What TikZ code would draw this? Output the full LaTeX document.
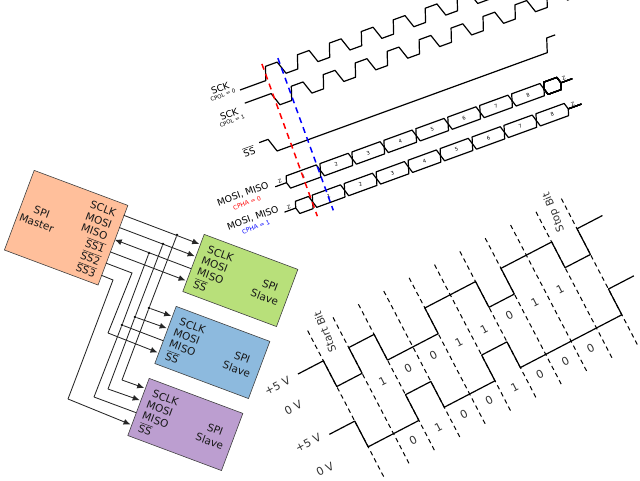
\documentclass[tikz,border=0pt]{standalone}
\usepackage{fontspec}
\setmainfont{DejaVu Sans}
\usetikzlibrary{arrows.meta}
\definecolor{masterfill}{RGB}{255,191,155}
\definecolor{slavegreen}{RGB}{184,224,122}
\definecolor{slaveblue}{RGB}{141,186,222}
\definecolor{slavepurple}{RGB}{188,158,208}
\newcommand{\ovl}[1]{$\overline{\mbox{#1}}$}
\newcommand{\fs}[1]{\fontsize{#1}{#1}\selectfont}
\newcommand{\buscell}[4]{%
  \draw[wave] ({#1},{#3}) -- ({#1+2},{#3-6.5}) -- ({#2-2},{#3-6.5}) -- ({#2},{#3})
    -- ({#2-2},{#3+6.5}) -- ({#1+2},{#3+6.5}) -- cycle;
  \node[tiny label] at ({(#1+#2)/2},{#3}) {#4};}
\tikzset{
  spibox/.style={draw=black!75, line width=0.6pt, anchor=north west, inner sep=0pt},
  spitext/.style={font=\fs{10.5}, inner sep=0pt, text=black!90},
  wire/.style={black!85, line width=0.85pt},
  wirearrow/.style={wire, -{Latex[length=7pt,width=6pt]}},
  joint/.style={circle, fill=black, inner sep=0pt, minimum size=2.6pt},
  wave/.style={black, line width=1.2pt, line join=round},
  bitdash/.style={black, line width=1pt, dash pattern=on 4.5pt off 3.5pt},
  tiny label/.style={font=\fs{5}, inner sep=0pt},
  timing label/.style={font=\fs{9.3}, inner sep=0pt},
  small label/.style={font=\fs{5.5}, inner sep=0pt},
  level label/.style={font=\fs{11}, inner sep=0pt, text=black!80},
}
\begin{document}
\begin{tikzpicture}[x=1pt, y=-1pt]
  \useasboundingbox (0,0) rectangle (640,480);
  \clip (0,0) rectangle (640,480);

  % clock, select and data timing
  \begin{scope}[shift={(240,90)}, rotate=20, transform shape]
    \draw[wave] (0,0) -- (27.5,0) \foreach \k in {0,...,9} {
      -- ({32+34*\k},-13.5) -- ({44.5+34*\k},-13.5) -- ({49+34*\k},0) -- ({61.5+34*\k},0) };
    \draw[wave] (0,14) -- (28,14) -- (32.5,27.5) -- (45,27.5) \foreach \k in {0,...,9} {
      -- ({49.5+34*\k},14) -- ({62+34*\k},14) -- ({66.5+34*\k},27.5) -- ({79+34*\k},27.5) };
    \draw[wave] (0,56) -- (9.5,56) -- (14,70) -- (301.5,70) -- (306,56) -- (315,56);

    \draw[wave] (0,103) -- (12,103);
    \buscell{12}{48}{103}{1}
    \foreach \n in {2,...,8}
      \buscell{14+34*(\n-1)}{14+34*\n}{103}{\n}
    \buscell{286}{304}{103}{}
    \draw[wave] (304,103) -- (316,103);

    \draw[wave] (0,130) -- (12,130);
    \buscell{12}{30}{130}{}
    \foreach \n in {1,...,8}
      \buscell{30+34*(\n-1)}{30+34*\n}{130}{\n}
    \draw[wave] (302,130) -- (316,130);

    \node[tiny label] at (6.5,99) {Z};
    \node[tiny label] at (308.5,99.5) {Z};
    \node[tiny label] at (6,126.5) {Z};
    \node[tiny label] at (308,127) {Z};

    \draw[red, line width=1.5pt, dash pattern=on 6pt off 4.5pt] (29.5,-17) -- (29.5,145);
    \draw[blue, line width=1.5pt, dash pattern=on 6pt off 4.5pt] (46.5,-17) -- (46.5,145);

    \node[timing label] at (-18,-8.7) {SCK};
    \node[small label] at (-17.7,-1) {CPOL = 0};
    \node[timing label] at (-18.5,18.8) {SCK};
    \node[small label] at (-18,26.4) {CPOL = 1};
    \node[timing label] at (-12.4,60.4) {\ovl{SS}};
    \node[timing label] at (-32.8,98.8) {MOSI, MISO};
    \node[small label, font=\fs{6}, text=red] at (-32,108.6) {CPHA = 0};
    \node[timing label] at (-31.6,124.8) {MOSI, MISO};
    \node[small label, font=\fs{6}, text=blue] at (-31.9,134.3) {CPHA = 1};
  \end{scope}

  % master
  \begin{scope}[shift={(34,170)}, rotate=-20.5, transform shape]
    \node[spibox, fill=masterfill, minimum width=100pt, minimum height=85pt] (master) at (0,0) {};
    \node[spitext] (masterspi) at (22,36.6) {SPI};
    \node[spitext] (mastername) at (21,48.7) {Master};
    \node[spitext, anchor=east] (mastersclk) at (92,12) {SCLK};
    \node[spitext, anchor=east] (mastermosi) at (92,24.5) {MOSI};
    \node[spitext, anchor=east] (mastermiso) at (92,36.5) {MISO};
    \node[spitext, anchor=east] (masterssa) at (94,49) {\ovl{SS1}};
    \node[spitext, anchor=east] (masterssb) at (94,62) {\ovl{SS2}};
    \node[spitext, anchor=east] (masterssc) at (94,75) {\ovl{SS3}};
    \coordinate (m-sclk) at (100,11);
    \coordinate (m-mosi) at (100,24);
    \coordinate (m-miso) at (100,37);
    \coordinate (m-ssa) at (100,50);
    \coordinate (m-ssb) at (100,62);
    \coordinate (m-ssc) at (100,75);
  \end{scope}

  % slaves
  \foreach \s/\px/\py in {green/204/234, blue/176/306, purple/149/378} {
    \begin{scope}[shift={(\px,\py)}, rotate=-20.5, transform shape]
      \node[spibox, fill=slave\s, minimum width=100pt, minimum height=61pt] (\s box) at (0,0) {};
      \node[spitext, anchor=west] (\s sclk) at (9,13) {SCLK};
      \node[spitext, anchor=west] (\s mosi) at (7,25) {MOSI};
      \node[spitext, anchor=west] (\s miso) at (7,37) {MISO};
      \node[spitext, anchor=west] (\s ss) at (7.4,49) {\ovl{SS}};
      \node[spitext] (\s spi) at (80,25) {SPI};
      \node[spitext] (\s name) at (79,38) {Slave};
      \coordinate (\s-sclk) at (-1,11);
      \coordinate (\s-mosi) at (-1,24);
      \coordinate (\s-miso) at (0,37);
      \coordinate (\s-ss) at (-1,50);
    \end{scope}
  }

  % bus wires
  \node[joint] (ja) at (177,235) {};
  \node[joint] (jb) at (163,244) {};
  \node[joint] (jc) at (149,253) {};
  \node[joint] (jd) at (149,308) {};
  \node[joint] (je) at (135,317) {};
  \node[joint] (jf) at (122,325) {};
  \coordinate (ga) at (122,380);
  \coordinate (gb) at (108,389);
  \coordinate (gc) at (94,397);
  \coordinate (sa) at (132,273);
  \coordinate (sb) at (108,333);
  \coordinate (sc) at (113,280);
  \coordinate (sd) at (68,399);

  \draw[wirearrow] (m-sclk) -- (green-sclk);
  \draw[wirearrow] (m-mosi) -- (green-mosi);
  \draw[wirearrow] (green-miso) -- (m-miso);
  \draw[wirearrow] (m-ssa) -- (green-ss);

  \draw[wire] (ja) -- (jd) -- (ga);
  \draw[wire] (jb) -- (je) -- (gb);
  \draw[wire] (jc) -- (jf) -- (gc);
  \draw[wirearrow] (jd) -- (blue-sclk);
  \draw[wirearrow] (je) -- (blue-mosi);
  \draw[wire] (jf) -- (blue-miso);
  \draw[wirearrow] (ga) -- (purple-sclk);
  \draw[wirearrow] (gb) -- (purple-mosi);
  \draw[wire] (gc) -- (purple-miso);
  \draw[wire] (m-ssb) -- (sa) -- (sb);
  \draw[wirearrow] (sb) -- (blue-ss);
  \draw[wire] (m-ssc) -- (sc) -- (sd);
  \draw[wirearrow] (sd) -- (purple-ss);

  % serial frames
  \begin{scope}[shift={(298,374)}, rotate=27.5, x=28.6pt, transform shape]
    \foreach \k in {1,...,11}
      \draw[bitdash] (\k,-34) -- (\k,133);
    \draw[wave] (0,0) -- (1,0) -- (1,29) -- (2,29) -- (2,0) -- (3,0) -- (3,29) -- (5,29) -- (5,0)
      -- (7,0) -- (7,29) -- (8,29) -- (8,0) -- (10,0) -- (10,29) -- (11,29) -- (11,0) -- (12,0);
    \draw[wave] (0,68) -- (1,68) -- (1,97) -- (3,97) -- (3,68) -- (4,68) -- (4,97) -- (6,97) -- (6,68)
      -- (7,68) -- (7,97) -- (11,97) -- (11,68) -- (12,68);
    \foreach \k/\d in {2/1,3/0,4/0,5/1,6/1,7/0,8/1,9/1}
      \node[level label] at (\k+0.5,46) {\d};
    \foreach \k/\d in {2/0,3/1,4/0,5/0,6/1,7/0,8/0,9/0}
      \node[level label] at (\k+0.5,112) {\d};
    \node[level label] at (-0.83,1) {+5 V};
    \node[level label] at (-0.7,28) {0 V};
    \node[level label] at (-0.8,66) {+5 V};
    \node[level label] at (-0.7,97) {0 V};
  \end{scope}
  \node[level label, rotate=112, font=\fs{10.5}] (startbit) at (325,332) {Start Bit};
  \node[level label, rotate=112, font=\fs{10.5}] (stopbit) at (554,212) {Stop Bit};
\end{tikzpicture}
\end{document}
